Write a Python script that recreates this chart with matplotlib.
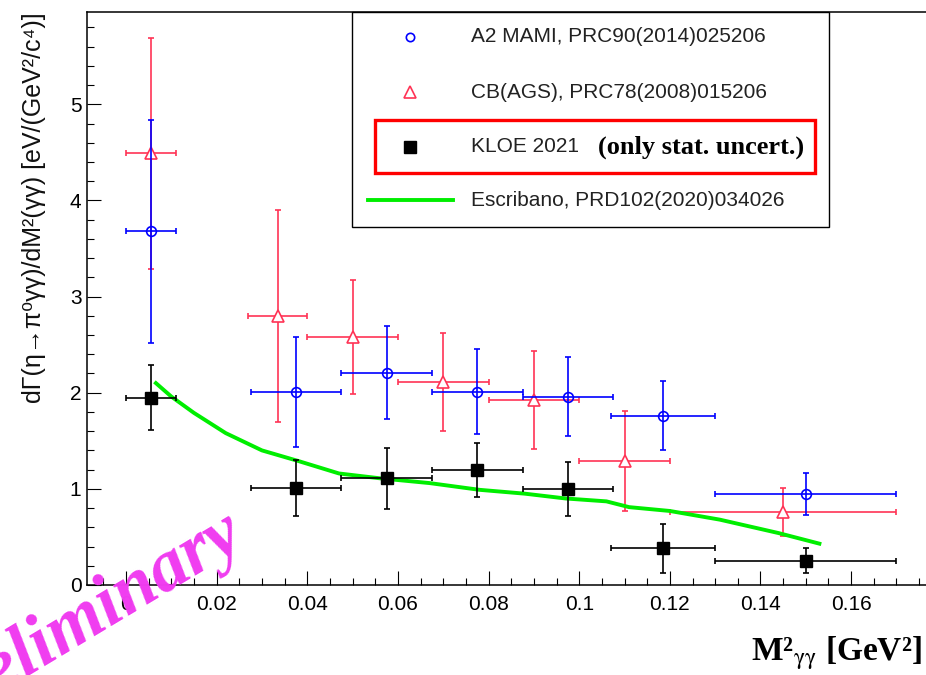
import matplotlib
matplotlib.use("Agg")
import matplotlib.pyplot as plt
from matplotlib.ticker import MultipleLocator, FuncFormatter
from matplotlib.lines import Line2D
from matplotlib.patches import Rectangle

# KLOE 2021
kloe_x = [0.0055, 0.0375, 0.0575, 0.0775, 0.0975, 0.1185, 0.150]
kloe_xerr = [0.0055, 0.010, 0.010, 0.010, 0.010, 0.0115, 0.020]
kloe_y = [1.95, 1.01, 1.11, 1.20, 1.00, 0.38, 0.25]
kloe_yerr = [0.34, 0.29, 0.32, 0.28, 0.28, 0.25, 0.13]

# A2 MAMI
a2_x = [0.0055, 0.0375, 0.0575, 0.0775, 0.0975, 0.1185, 0.150]
a2_xerr = [0.0055, 0.010, 0.010, 0.010, 0.010, 0.0115, 0.020]
a2_y = [3.68, 2.01, 2.21, 2.01, 1.96, 1.76, 0.95]
a2_yerr = [1.16, 0.57, 0.48, 0.44, 0.41, 0.36, 0.22]

# CB(AGS)
cb_x = [0.0055, 0.0335, 0.050, 0.070, 0.090, 0.110, 0.145]
cb_xerr = [0.0055, 0.0065, 0.010, 0.010, 0.010, 0.010, 0.025]
cb_y = [4.49, 2.80, 2.58, 2.11, 1.92, 1.29, 0.76]
cb_yerr = [1.20, 1.10, 0.59, 0.51, 0.51, 0.52, 0.25]

# Escribano prediction
th_x = [0.0066, 0.010, 0.015, 0.022, 0.030, 0.038, 0.047, 0.056, 0.067,
        0.078, 0.088, 0.097, 0.106, 0.111, 0.120, 0.131, 0.144, 0.153]
th_y = [2.10, 1.96, 1.79, 1.58, 1.40, 1.29, 1.16, 1.11, 1.06,
        0.99, 0.95, 0.90, 0.87, 0.81, 0.77, 0.68, 0.54, 0.43]

labels = ["A2 MAMI, PRC90(2014)025206", "CB(AGS), PRC78(2008)015206",
          "KLOE 2021", "Escribano, PRD102(2020)034026"]

W, H = 926, 675
def fx(px):
    return px / W
def fy(py):
    return 1 - py / H

blue = "#0000ff"
red = "#ff3355"
green = "#00ee00"
sans = ["Liberation Sans", "DejaVu Sans"]

plt.rcParams["mathtext.fontset"] = "stix"
fig = plt.figure(figsize=(W / 100, H / 100), dpi=100)
ax = fig.add_axes([fx(87), fy(585), (930 - 87) / W, (585 - 12) / H])

eb = dict(linestyle="none", capsize=2.5, elinewidth=1.2, capthick=1.2)
ax.errorbar(cb_x, cb_y, xerr=cb_xerr, yerr=cb_yerr, color=red, marker="^",
            ms=9, mfc="white", mec=red, mew=1.2, zorder=2, **eb)
ax.errorbar(a2_x, a2_y, xerr=a2_xerr, yerr=a2_yerr, color=blue, marker="o",
            ms=7, mfc="none", mec=blue, mew=1.2, zorder=3, **eb)
ax.plot(th_x, th_y, color=green, lw=2.8, zorder=4)
ax.errorbar(kloe_x, kloe_y, xerr=kloe_xerr, yerr=kloe_yerr, color="black",
            marker="s", ms=9, mfc="black", mec="black", zorder=5, **eb)

ax.set_xlim(-0.0086, 0.1774)
ax.set_ylim(0, 5.96)
ax.xaxis.set_major_locator(MultipleLocator(0.02))
ax.xaxis.set_minor_locator(MultipleLocator(0.005))
ax.yaxis.set_major_locator(MultipleLocator(1))
ax.yaxis.set_minor_locator(MultipleLocator(0.2))
ax.xaxis.set_major_formatter(FuncFormatter(lambda v, p: "%g" % round(v, 3)))
ax.tick_params(which="both", direction="in", top=False, right=False,
               labelsize=15, width=0.8, colors="black")
ax.tick_params(which="major", length=10)
ax.tick_params(which="minor", length=5)
ax.tick_params(axis="x", pad=7)
ax.tick_params(axis="y", pad=4)
for s in ax.spines.values():
    s.set_linewidth(1.1)
for lab in ax.get_xticklabels() + ax.get_yticklabels():
    lab.set_family("Liberation Sans")

ax.set_ylabel("dΓ(η→π⁰γγ)/dM²(γγ) [eV/(GeV²/c⁴)]",
              fontsize=18, family=sans, ha="right", color="#111111")
ax.yaxis.set_label_coords(-0.049, 1.0)

fig.text(fx(922), fy(661), r"M²$_{\mathrm{γγ}}$ [GeV²]", ha="right", va="baseline",
         fontsize=24, family="Liberation Serif", weight="bold")

# legend box
fig.add_artist(Rectangle((fx(352), fy(227)), (829 - 352) / W, (227 - 12) / H,
                         transform=fig.transFigure, facecolor="white",
                         edgecolor="black", lw=1.0, zorder=10))
rows = [37, 92, 147, 200]
fig.add_artist(Line2D([fx(410)], [fy(rows[0])], transform=fig.transFigure,
                      marker="o", ms=6, mfc="none", mec=blue, mew=1.2, zorder=11))
fig.add_artist(Line2D([fx(410)], [fy(rows[1])], transform=fig.transFigure,
                      marker="^", ms=8, mfc="white", mec=red, mew=1.2, zorder=11))
fig.add_artist(Line2D([fx(410)], [fy(rows[2])], transform=fig.transFigure,
                      marker="s", ms=8, mfc="black", mec="black", zorder=11))
fig.add_artist(Line2D([fx(368), fx(453)], [fy(rows[3]), fy(rows[3])],
                      transform=fig.transFigure, color=green, lw=2.8, zorder=11))
for r, lab in zip(rows, labels):
    fig.text(fx(471), fy(r), lab, ha="left", va="center", fontsize=15,
             family="Liberation Sans", color="#222222", zorder=12)

fig.add_artist(Rectangle((fx(375), fy(173)), (815 - 375) / W, (173 - 120) / H,
                         transform=fig.transFigure, facecolor="none",
                         edgecolor="#ff0000", lw=2.4, zorder=13))
fig.text(fx(598), fy(147), "(only stat. uncert.)", ha="left", va="center",
         fontsize=19, family="Liberation Serif", weight="bold", zorder=13)

fig.text(fx(247), fy(545), "Preliminary", ha="right", va="baseline",
         rotation=31, rotation_mode="anchor", fontsize=53, color="#f03cf0",
         family="Liberation Serif", weight="bold", style="italic", zorder=20)

fig.savefig("out.png", dpi=100)
